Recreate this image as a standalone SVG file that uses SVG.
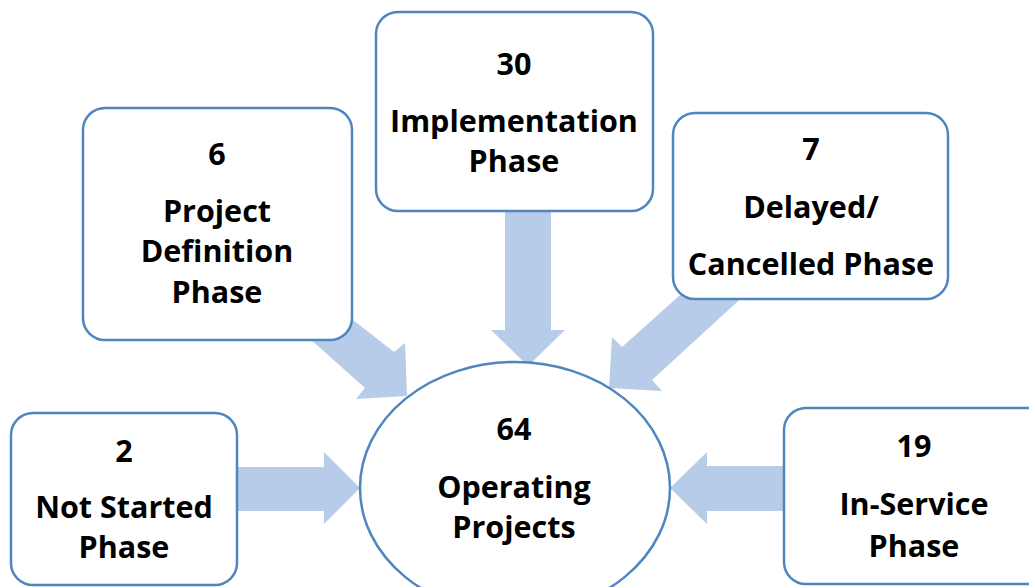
<svg xmlns="http://www.w3.org/2000/svg" width="1029" height="587" viewBox="0 0 1029 587">
<style>
.box{fill:#fff;stroke:#4f86c0;stroke-width:2.5}
.arr{fill:#b7cce8}
text{font-family:"Open Sans","Liberation Sans",sans-serif;font-weight:bold;font-size:30.5px;fill:#000;text-anchor:middle}
</style>
<rect width="1029" height="587" fill="#fff"/>
<g id="connectors">
<polygon class="arr" points="505,205 551,205 551,330 565,330 528,366 491,330 505,330"/>
<polygon class="arr" points="230,467 324,467 324,452 360,488 324,524 324,511 230,511"/>
<polygon class="arr" points="790,466 707,466 707,452 670,488 707,524 707,511 790,511"/>
<polygon class="arr" points="330,302 394,352 405,343 407,396 356,399 365,388 300,330"/>
<polygon class="arr" points="689,287 622,347 612,337 609,388 662,391 652,380 748,292"/>
</g>
<g id="node-project-definition">
<rect class="box" x="83" y="108" width="269" height="232" rx="22"/>
<text x="217" y="165">6</text>
<text x="217" y="222">Project</text>
<text x="217" y="262">Definition</text>
<text x="217" y="303">Phase</text>
</g>
<g id="node-implementation">
<rect class="box" x="376" y="12" width="277" height="199" rx="22"/>
<text x="514" y="75">30</text>
<text x="514" y="132">Implementation</text>
<text x="514" y="172">Phase</text>
</g>
<g id="node-delayed">
<rect class="box" x="673" y="113" width="275" height="186" rx="22"/>
<text x="811" y="160">7</text>
<text x="811" y="218">Delayed/</text>
<text x="811" y="275">Cancelled Phase</text>
</g>
<g id="node-not-started">
<rect class="box" x="11" y="413" width="226" height="172" rx="22"/>
<text x="124" y="462">2</text>
<text x="124" y="518">Not Started</text>
<text x="124" y="558">Phase</text>
</g>
<g id="node-in-service">
<rect class="box" x="784" y="408" width="270" height="176" rx="22"/>
<text x="914" y="457">19</text>
<text x="914" y="515">In-Service</text>
<text x="914" y="557">Phase</text>
</g>
<g id="node-operating">
<ellipse class="box" cx="515" cy="488" rx="155" ry="126"/>
<text x="514" y="440">64</text>
<text x="514" y="498">Operating</text>
<text x="514" y="538">Projects</text>
</g>
</svg>
